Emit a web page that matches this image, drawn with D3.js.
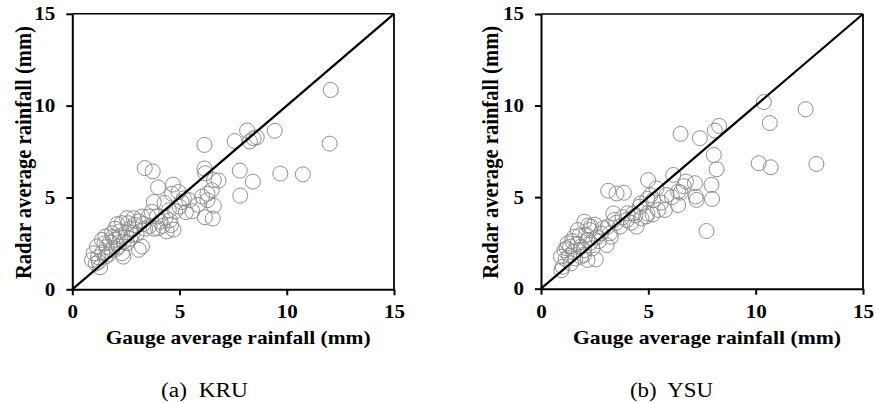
<!DOCTYPE html>
<html>
<head>
<meta charset="utf-8">
<script src="https://cdn.jsdelivr.net/npm/d3@7"></script>
<style>
  html, body { margin: 0; padding: 0; background: #fff; }
  svg { display: block; }
  svg text { font-family: "Liberation Serif", "Times New Roman", Times, serif !important; fill: #000; }
</style>
</head>
<body>
<svg id="chart" width="875" height="403"></svg>
<script>
const axisTicks = [0, 5, 10, 15];
const xTitle = "Gauge average rainfall (mm)";
const yTitle = "Radar average rainfall (mm)";
const captions = ["(a)  KRU", "(b)  YSU"];

// KRU: gauge (x) and radar (y)
const kruGauge = [12.05,12.0,9.44,8.15,8.45,8.6,8.28,7.57,6.16,3.38,3.75,7.81,8.42,9.7,10.75,7.83,
  6.16,6.2,6.82,6.6,6.5,6.3,6.6,6.55,6.18,6.3,6.05,5.85,5.6,5.3,5.45,5.1,4.95,4.7,4.65,4.0,5.2,
  3.8,4.3,3.7,3.95,4.1,4.6,4.72,4.4,4.0,3.55,3.25,4.35,4.5,3.6,3.1,2.38,
  2.86,2.55,2.32,2.1,2.0,1.85,1.54,1.38,1.15,1.0,0.92,1.23,1.54,1.85,2.16,2.55,2.78,3.25,2.32,1.3,1.1,
  1.6,1.75,2.0,2.25,2.5,2.7,2.9,3.1,1.4,1.7,2.05,2.4,2.7,3.0,3.4,1.2,1.5,1.9,2.2,2.6,3.3,3.8,4.2,4.55,4.8,5.0];
const kruRadar = [10.85,7.93,8.63,8.65,8.22,8.28,8.05,8.07,7.86,6.6,6.42,6.46,5.86,6.3,6.26,5.1,
  6.58,6.32,5.92,5.95,5.4,5.2,4.55,3.85,3.92,4.85,5.05,4.6,4.25,4.2,4.85,4.75,5.3,5.7,5.2,5.55,4.95,
  4.75,4.7,4.22,3.96,3.68,3.5,3.25,3.15,3.32,3.96,3.96,3.9,4.3,3.45,2.15,1.78,
  3.87,3.87,3.6,3.55,3.3,3.05,2.87,2.69,2.33,1.96,1.6,1.5,1.78,2.14,2.33,2.51,2.96,2.33,1.96,1.2,1.4,
  2.3,2.55,2.7,2.9,3.1,3.3,3.5,3.7,2.0,1.9,2.2,2.6,2.75,3.0,3.3,1.75,2.5,2.85,3.15,3.6,3.55,3.3,3.45,3.75,4.25,4.5];

// YSU: gauge (x) and radar (y)
const ysuGauge = [10.38,12.33,10.66,12.83,10.14,10.7,6.5,7.4,8.1,8.3,8.05,8.18,7.94,7.97,7.71,7.17,7.21,7.25,
  6.75,6.65,6.16,6.39,6.39,5.85,5.77,4.99,5.38,5.23,5.1,4.95,3.13,3.52,3.86,6.1,6.5,5.6,5.45,5.2,4.96,
  4.65,4.3,4.6,4.68,4.45,4.9,4.03,3.41,3.37,3.68,3.8,4.2,3.1,3.21,3.26,3.06,2.79,2.55,2.28,2.2,2.33,2.02,2.5,
  1.71,1.55,1.24,1.09,0.93,1.01,1.4,1.86,2.17,2.17,1.86,1.5,1.3,1.2,1.45,1.7,2.0,2.3,2.6,2.0,1.6,1.35,1.8,
  2.1,2.4,2.9,2.7,3.5,4.0,4.4,0.95,1.15];
const ysuRadar = [10.19,9.8,9.04,6.81,6.85,6.63,8.45,8.22,8.63,8.89,7.3,6.52,5.67,4.9,3.15,5.76,5.03,4.85,
  5.85,5.6,6.21,5.3,4.57,5.12,4.3,5.93,5.48,4.84,5.1,4.9,5.35,5.2,5.24,5.0,5.25,4.7,4.3,4.05,4.1,
  4.66,4.11,4.48,3.84,3.39,3.95,4.12,3.75,4.11,3.39,3.9,3.6,3.39,3.02,2.84,2.38,3.02,1.6,3.2,3.45,3.39,3.66,3.5,
  3.2,2.84,2.48,2.11,1.75,1.2,1.38,1.75,1.57,2.66,2.3,2.0,1.8,2.2,2.6,2.45,2.1,2.5,2.8,1.85,1.65,2.3,2.9,
  2.95,2.2,3.3,2.6,3.6,3.75,4.0,1.0,1.6];

const svg = d3.select("#chart");
const SX = 1.14; // horizontal stretch of the original figure

function panel(opts) {
  const { gauge, radar, left, right, top, bottom, caption } = opts;
  const x = d3.scaleLinear().domain([0, 15]).range([left, right]);
  const y = d3.scaleLinear().domain([0, 15]).range([bottom, top]);
  const g = svg.append("g");

  // frame (top & right)
  g.append("line").attr("x1", x(0)).attr("x2", x(15)).attr("y1", y(15)).attr("y2", y(15))
    .attr("stroke", "#000").attr("stroke-width", 1.5);
  g.append("line").attr("x1", x(15)).attr("x2", x(15)).attr("y1", y(0)).attr("y2", y(15))
    .attr("stroke", "#000").attr("stroke-width", 1.8);

  // points
  const pts = d3.zip(gauge, radar);
  g.append("g").selectAll("circle").data(pts).join("circle")
    .attr("cx", d => x(d[0])).attr("cy", d => y(d[1])).attr("r", 7.5)
    .attr("fill", "none").attr("stroke", "#8f8f8f").attr("stroke-width", 1);

  // 1:1 line
  g.append("line").attr("x1", x(0)).attr("y1", y(0)).attr("x2", x(15)).attr("y2", y(15))
    .attr("stroke", "#000").attr("stroke-width", 2.2);

  const xa = g.append("g").attr("transform", `translate(0,${bottom})`)
    .call(d3.axisBottom(x).tickValues(axisTicks).tickSize(6).tickPadding(10).tickSizeOuter(0));
  const ya = g.append("g").attr("transform", `translate(${left},0)`)
    .call(d3.axisLeft(y).tickValues(axisTicks).tickSize(6).tickPadding(11).tickSizeOuter(0));
  [xa, ya].forEach(a => {
    a.attr("font-family", null);
    a.select(".domain").attr("stroke", "#000").attr("stroke-width", 2);
    a.selectAll(".tick line").attr("stroke", "#000").attr("stroke-width", 2);
    a.selectAll(".tick text").attr("fill", "#000")
      .style("font-weight", "bold").style("font-size", "18.5px");
  });
  // stretch tick labels horizontally around their anchor
  xa.selectAll(".tick text").attr("transform", `scale(${SX},1)`);
  ya.selectAll(".tick text").each(function () {
    const t = d3.select(this);
    const tx = +t.attr("x");
    t.attr("x", tx / SX).attr("transform", `scale(${SX},1)`);
  });

  g.append("text").attr("x", (left + right) / 2 + 5).attr("y", bottom + 55)
    .attr("text-anchor", "middle").style("font-weight", "bold").style("font-size", "19px")
    .attr("textLength", opts.titleLen).attr("lengthAdjust", "spacingAndGlyphs")
    .text(xTitle);
  g.append("text")
    .attr("transform", `translate(${opts.yTitleX},${(top + bottom) / 2 + 1}) scale(${SX},1) rotate(-90)`)
    .attr("text-anchor", "middle").attr("dy", "0.35em")
    .style("font-weight", "bold").style("font-size", "20.5px")
    .attr("textLength", 253).attr("lengthAdjust", "spacingAndGlyphs")
    .text(yTitle);
  g.append("text").attr("x", opts.capX).attr("y", 396.5)
    .attr("text-anchor", "middle").style("font-size", "20px").style("white-space", "pre")
    .attr("textLength", opts.capLen).attr("lengthAdjust", "spacingAndGlyphs")
    .text(caption);
}

panel({ gauge: kruGauge, radar: kruRadar, left: 72.3, right: 394, top: 13.8, bottom: 289.3,
  caption: captions[0], capX: 204.5, capLen: 87, titleLen: 265, yTitleX: 23 });
panel({ gauge: ysuGauge, radar: ysuRadar, left: 541, right: 863, top: 14, bottom: 288.7,
  caption: captions[1], capX: 671.5, capLen: 83, titleLen: 268, yTitleX: 490 });
</script>
</body>
</html>
